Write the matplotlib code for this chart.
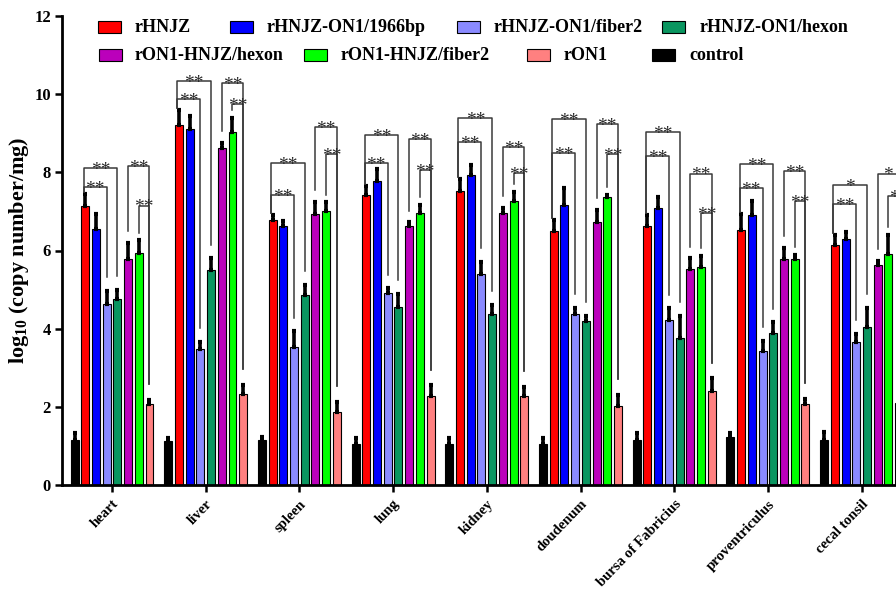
import numpy as np
import matplotlib.pyplot as plt
from matplotlib.patches import Rectangle

plt.rcParams['font.family'] = 'Liberation Serif'
plt.rcParams['font.weight'] = 'bold'
plt.rcParams['mathtext.default'] = 'regular'

organs = ["heart", "liver", "spleen", "lung", "kidney", "doudenum",
          "bursa of Fabricius", "proventriculus", "cecal tonsil"]

# bar order inside each group
names = ["control", "rHNJZ", "rHNJZ-ON1/1966bp", "rHNJZ-ON1/fiber2", "rHNJZ-ON1/hexon",
         "rON1-HNJZ/hexon", "rON1-HNJZ/fiber2", "rON1"]
colors = ["#000000", "#ff0000", "#0000ff", "#8a8aff", "#0a9660",
          "#bb00bb", "#00ff00", "#ff8080"]

control = [1.15, 1.13, 1.15, 1.05, 1.05, 1.05, 1.15, 1.22, 1.15]
rHNJZ = [7.13, 9.22, 6.79, 7.43, 7.51, 6.51, 6.62, 6.52, 6.13]
rHNJZ_1966 = [6.56, 9.10, 6.63, 7.77, 7.93, 7.17, 7.09, 6.91, 6.30]
rHNJZ_fiber2 = [4.63, 3.49, 3.53, 4.91, 5.40, 4.38, 4.21, 3.44, 3.66]
rHNJZ_hexon = [4.77, 5.49, 4.87, 4.56, 4.38, 4.20, 3.75, 3.88, 4.05]
rON1_hexon = [5.79, 8.63, 6.93, 6.62, 6.95, 6.72, 5.53, 5.79, 5.63]
rON1_fiber2 = [5.93, 9.04, 7.00, 6.96, 7.26, 7.38, 5.57, 5.77, 5.92]
rON1 = [2.07, 2.34, 1.86, 2.27, 2.28, 2.03, 2.41, 2.06, 2.10]

control_sd = [0.19, 0.08, 0.09, 0.15, 0.15, 0.15, 0.19, 0.10, 0.20]
rHNJZ_sd = [0.31, 0.37, 0.12, 0.22, 0.33, 0.28, 0.29, 0.42, 0.27]
rHNJZ_1966_sd = [0.38, 0.33, 0.13, 0.32, 0.26, 0.44, 0.29, 0.36, 0.18]
rHNJZ_fiber2_sd = [0.34, 0.18, 0.40, 0.12, 0.31, 0.16, 0.31, 0.24, 0.20]
rHNJZ_hexon_sd = [0.23, 0.31, 0.26, 0.33, 0.23, 0.13, 0.57, 0.28, 0.48]
rON1_hexon_sd = [0.41, 0.12, 0.32, 0.10, 0.14, 0.32, 0.27, 0.27, 0.11]
rON1_fiber2_sd = [0.33, 0.36, 0.23, 0.21, 0.23, 0.05, 0.30, 0.12, 0.47]
rON1_sd = [0.11, 0.22, 0.27, 0.28, 0.23, 0.27, 0.32, 0.15, 0.20]

values = [control, rHNJZ, rHNJZ_1966, rHNJZ_fiber2, rHNJZ_hexon, rON1_hexon, rON1_fiber2, rON1]
errors = [control_sd, rHNJZ_sd, rHNJZ_1966_sd, rHNJZ_fiber2_sd, rHNJZ_hexon_sd,
          rON1_hexon_sd, rON1_fiber2_sd, rON1_sd]

# significance brackets (heights of the horizontal lines)
left_outer = [8.10, 10.33, 8.23, 8.95, 9.38, 9.36, 9.04, 8.21, 7.67]
left_inner = [7.63, 9.88, 7.41, 8.23, 8.77, 8.50, 8.41, 7.59, 7.20]
right_outer = [8.15, 10.29, 9.15, 8.85, 8.64, 9.24, 7.97, 8.03, 7.97]
right_inner = [7.15, 9.74, 8.47, 8.06, 7.99, 8.47, 6.97, 7.26, 7.39]
left_outer_sig = ["**"] * 8 + ["*"]
left_inner_sig = ["**"] * 9
right_outer_sig = ["**"] * 8 + ["*"]
right_inner_sig = ["**"] * 8 + ["*"]

W, H = 896, 589
fig = plt.figure(figsize=(W / 100, H / 100), dpi=100)
ax = fig.add_axes([62 / W, 1 - 485 / H, 1 - 62 / W, (485 - 16) / H])

slot = 0.1142
bw = 0.085
x = np.arange(len(organs))

for i in range(8):
    xs = x + (i - 3.5) * slot
    ax.bar(xs, values[i], width=bw, color=colors[i], edgecolor="black", linewidth=0.8, zorder=2)
    ax.errorbar(xs, values[i], yerr=[np.zeros(len(organs)), errors[i]], fmt="none",
                ecolor="black", elinewidth=2.6, capsize=1.2, capthick=3, zorder=3)

def top(i, g):
    return values[i][g] + errors[i][g]

def bracket(x1, x2, y, y1, y2, label):
    ax.plot([x1, x1, x2, x2], [y1, y, y, y2], color="#3a3a3a", lw=1.1, zorder=4)
    ax.annotate(label, ((x1 + x2) / 2, y), xytext=(0, -5), textcoords="offset points",
                ha="center", va="baseline", fontsize=14, fontweight="normal",
                color="#2a2a2a", zorder=5)

for g in range(len(organs)):
    px = lambda i: g + (i - 3.5) * slot
    red_l = px(1) - 0.15 * slot
    bracket(red_l, px(4), left_outer[g], top(1, g) + 0.05, top(4, g) + 0.35, left_outer_sig[g])
    bracket(red_l, px(3), left_inner[g], top(1, g) + 0.05, top(3, g) + 0.35, left_inner_sig[g])
    bracket(px(5), px(7), right_outer[g], top(5, g) + 0.3, top(7, g) + 0.4, right_outer_sig[g])
    bracket(px(6), px(7), right_inner[g], top(6, g) + 0.2, top(7, g) + 0.4, right_inner_sig[g])

ax.set_xlim(-0.534, 8.367)
ax.set_ylim(0, 12)
ax.set_yticks(range(0, 13, 2))
ax.set_xticks(x)
ax.set_xticklabels(organs, rotation=46, ha="right", va="top", rotation_mode="anchor",
                   fontsize=10.5, fontweight="bold")
ax.tick_params(axis="y", labelsize=12, width=1.8, length=5, pad=3)
ax.tick_params(axis="x", width=1.8, length=5, pad=4)
for s in ["top", "right"]:
    ax.spines[s].set_visible(False)
for s in ["left", "bottom"]:
    ax.spines[s].set_linewidth(2)
ax.set_ylabel("log$_{10}$ (copy number/mg)", fontsize=16, fontweight="bold", labelpad=2)

# legend laid out like the original (two rows, uneven columns)
legend_rows = [
    [(1, 98, 135), (2, 230, 267), (3, 457, 494), (4, 662, 700)],
    [(5, 99, 135), (6, 304, 341), (7, 527, 564), (0, 652, 689)],
]
row_y = [27, 55]
for r, row in enumerate(legend_rows):
    for i, px0, tx in row:
        fig.add_artist(Rectangle((px0 / W, 1 - (row_y[r] + 6) / H), 23 / W, 12 / H,
                                 transform=fig.transFigure, facecolor=colors[i],
                                 edgecolor="black", linewidth=0.8))
        fig.text(tx / W, 1 - row_y[r] / H, names[i], fontsize=13, fontweight="bold",
                 ha="left", va="center")

fig.savefig("out.png", dpi=100)
